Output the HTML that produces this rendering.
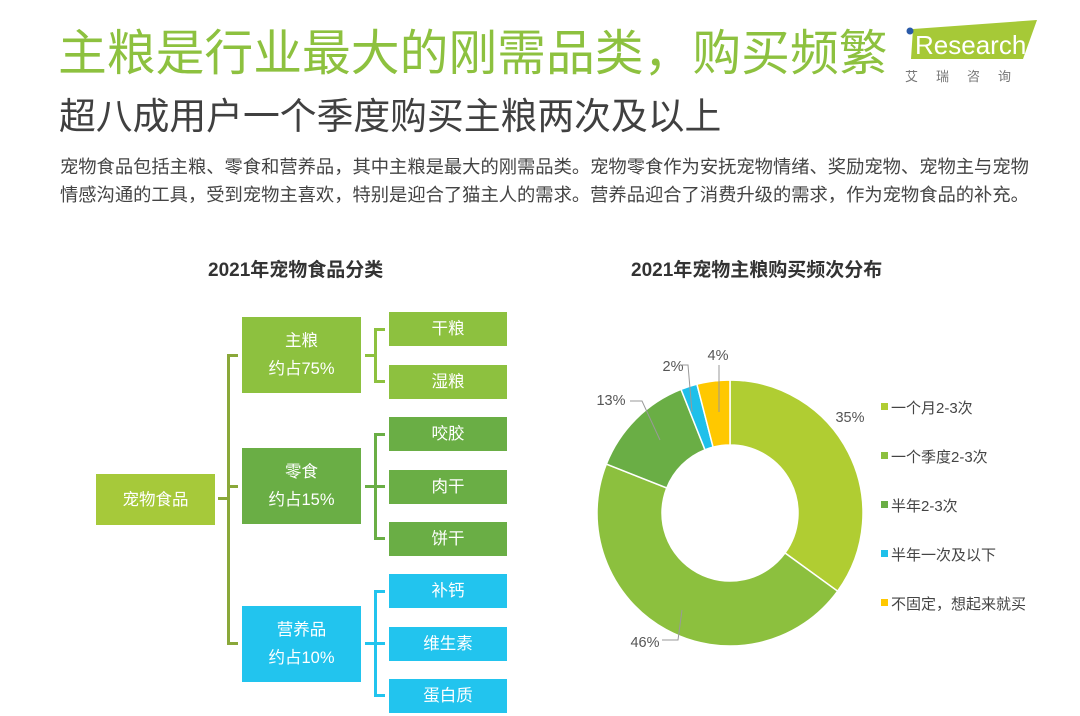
<!DOCTYPE html>
<html><head><meta charset="utf-8">
<style>
body{margin:0;width:1080px;height:716px;background:#fff;overflow:hidden;position:relative;font-family:"Liberation Sans","Noto Sans CJK SC",sans-serif;}
.t{position:absolute;white-space:nowrap;}
.box{position:absolute;color:#fff;display:flex;align-items:center;justify-content:center;text-align:center;font-size:16.5px;line-height:28px;}
.ln{position:absolute;background:#8aa83a;}
</style></head><body>
<div class="t" style="left:58px;top:26px;font-size:48.8px;color:#8dc13f;line-height:56px;">主粮是行业最大的刚需品类，购买频繁</div>
<div class="t" style="left:59px;top:95px;font-size:36.8px;color:#404040;line-height:44px;">超八成用户一个季度购买主粮两次及以上</div>
<div class="t" style="left:60px;top:153px;font-size:18.3px;color:#444;line-height:28px;">宠物食品包括主粮、零食和营养品，其中主粮是最大的刚需品类。宠物零食作为安抚宠物情绪、奖励宠物、宠物主与宠物<br>情感沟通的工具，受到宠物主喜欢，特别是迎合了猫主人的需求。营养品迎合了消费升级的需求，作为宠物食品的补充。</div>
<div style="position:absolute;left:903px;top:19px;width:137px;height:70px;">
<svg width="137" height="70"><polygon points="10,10 134,1 120,40 8,40" fill="#a6c937"/><circle cx="7" cy="12" r="3.5" fill="#2a5aa8"/>
<text x="12" y="35" font-size="26" fill="#fff" font-family="Liberation Sans">Research</text>
<text x="2" y="62" font-size="13" fill="#777" letter-spacing="18" font-family="Noto Sans CJK SC">艾瑞咨询</text></svg></div>

<div class="t" style="left:208px;top:255px;font-size:19px;font-weight:bold;color:#333;">2021年宠物食品分类</div>
<div class="t" style="left:631px;top:255px;font-size:19px;font-weight:bold;color:#333;">2021年宠物主粮购买频次分布</div>

<div class="box" style="left:96px;top:474px;width:119px;height:51px;background:#a6c93a;">宠物食品</div>
<div class="ln" style="left:218px;top:497px;width:11px;height:3px;"></div>
<div class="ln" style="left:227px;top:354px;width:3px;height:291px;"></div>
<div class="ln" style="left:227px;top:354px;width:11px;height:3px;"></div>
<div class="ln" style="left:227px;top:485px;width:11px;height:3px;"></div>
<div class="ln" style="left:227px;top:642px;width:11px;height:3px;"></div>

<div class="box" style="left:242px;top:317px;width:119px;height:76px;background:#8dc13f;">主粮<br>约占75%</div>
<div class="box" style="left:242px;top:448px;width:119px;height:76px;background:#6aae45;">零食<br>约占15%</div>
<div class="box" style="left:242px;top:606px;width:119px;height:76px;background:#22c4ee;">营养品<br>约占10%</div>

<div class="ln" style="left:365px;top:354px;width:10px;height:3px;background:#8dc13f"></div>
<div class="ln" style="left:374px;top:328px;width:3px;height:54px;background:#8dc13f"></div>
<div class="ln" style="left:374px;top:328px;width:11px;height:3px;background:#8dc13f"></div>
<div class="ln" style="left:374px;top:380px;width:11px;height:3px;background:#8dc13f"></div>

<div class="ln" style="left:365px;top:485px;width:20px;height:3px;background:#6aae45"></div>
<div class="ln" style="left:374px;top:433px;width:3px;height:107px;background:#6aae45"></div>
<div class="ln" style="left:374px;top:433px;width:11px;height:3px;background:#6aae45"></div>
<div class="ln" style="left:374px;top:537px;width:11px;height:3px;background:#6aae45"></div>

<div class="ln" style="left:365px;top:642px;width:20px;height:3px;background:#22c4ee"></div>
<div class="ln" style="left:374px;top:590px;width:3px;height:107px;background:#22c4ee"></div>
<div class="ln" style="left:374px;top:590px;width:11px;height:3px;background:#22c4ee"></div>
<div class="ln" style="left:374px;top:694px;width:11px;height:3px;background:#22c4ee"></div>

<div class="box" style="left:389px;top:312px;width:118px;height:34px;background:#8dc13f;">干粮</div>
<div class="box" style="left:389px;top:365px;width:118px;height:34px;background:#8dc13f;">湿粮</div>
<div class="box" style="left:389px;top:417px;width:118px;height:34px;background:#6aae45;">咬胶</div>
<div class="box" style="left:389px;top:470px;width:118px;height:34px;background:#6aae45;">肉干</div>
<div class="box" style="left:389px;top:522px;width:118px;height:34px;background:#6aae45;">饼干</div>
<div class="box" style="left:389px;top:574px;width:118px;height:34px;background:#22c4ee;">补钙</div>
<div class="box" style="left:389px;top:627px;width:118px;height:34px;background:#22c4ee;">维生素</div>
<div class="box" style="left:389px;top:679px;width:118px;height:34px;background:#22c4ee;">蛋白质</div>

<svg id="donut" width="1080" height="716" style="position:absolute;left:0;top:0;"></svg>
<script>
const categories=["一个月2-3次","一个季度2-3次","半年2-3次","半年一次及以下","不固定，想起来就买"];
const values=[35,46,13,2,4];
const labels=["35%","46%","13%","2%","4%"];
const colors=["#b0cd32","#8cc03e","#6aae45","#1fc0ea","#ffc800"];
const NS="http://www.w3.org/2000/svg";
const svg=document.getElementById('donut');
const cx=730,cy=513,R=133,r=68;
const total=values.reduce((a,b)=>a+b,0);
function pt(a,rad){return [cx+rad*Math.sin(a),cy-rad*Math.cos(a)];}
let acc=0;
const labelPos=[[850,422],[645,647],[611,405],[673,371],[718,360]];
const leaders=[null,"M662,640 L678,640 L682,610","M630,401 L642,401 L660,440","M682,365 L688,365 L692,412","M719,365 L719,412"];
values.forEach((v,i)=>{
  const a0=acc/total*2*Math.PI; acc+=v; const a1=acc/total*2*Math.PI;
  const large=(a1-a0)>Math.PI?1:0;
  const p0=pt(a0,R),p1=pt(a1,R),q1=pt(a1,r),q0=pt(a0,r);
  const p=document.createElementNS(NS,'path');
  p.setAttribute('d',`M${p0[0]},${p0[1]}A${R},${R} 0 ${large} 1 ${p1[0]},${p1[1]}L${q1[0]},${q1[1]}A${r},${r} 0 ${large} 0 ${q0[0]},${q0[1]}Z`);
  p.setAttribute('fill',colors[i]);p.setAttribute('stroke','#fff');p.setAttribute('stroke-width','1.5');
  
  
  svg.appendChild(p);
});
values.forEach((v,i)=>{
  if(leaders[i]){
    const l=document.createElementNS(NS,'path');
    l.setAttribute('d',leaders[i]);l.setAttribute('fill','none');l.setAttribute('stroke','#999');l.setAttribute('stroke-width','1');
    
    
    svg.appendChild(l);
  }
  const t=document.createElementNS(NS,'text');
  t.setAttribute('x',labelPos[i][0]);t.setAttribute('y',labelPos[i][1]);
  t.setAttribute('text-anchor','middle');t.setAttribute('font-size','14.5');t.setAttribute('fill','#555');
  t.setAttribute('font-family','Liberation Sans');
  t.textContent=labels[i];
  
  
  svg.appendChild(t);
  const ly=408+i*49;
  const s=document.createElementNS(NS,'rect');
  s.setAttribute('x',881);s.setAttribute('y',ly-5);s.setAttribute('width',7);s.setAttribute('height',7);s.setAttribute('fill',colors[i]);
  
  
  svg.appendChild(s);
  const lt=document.createElementNS(NS,'text');
  lt.setAttribute('x',891);lt.setAttribute('y',ly+5);lt.setAttribute('font-size','15');lt.setAttribute('fill','#444');
  lt.setAttribute('font-family','Liberation Sans, Noto Sans CJK SC, sans-serif');
  lt.textContent=categories[i];
  
  
  svg.appendChild(lt);
});
</script>
</body></html>
